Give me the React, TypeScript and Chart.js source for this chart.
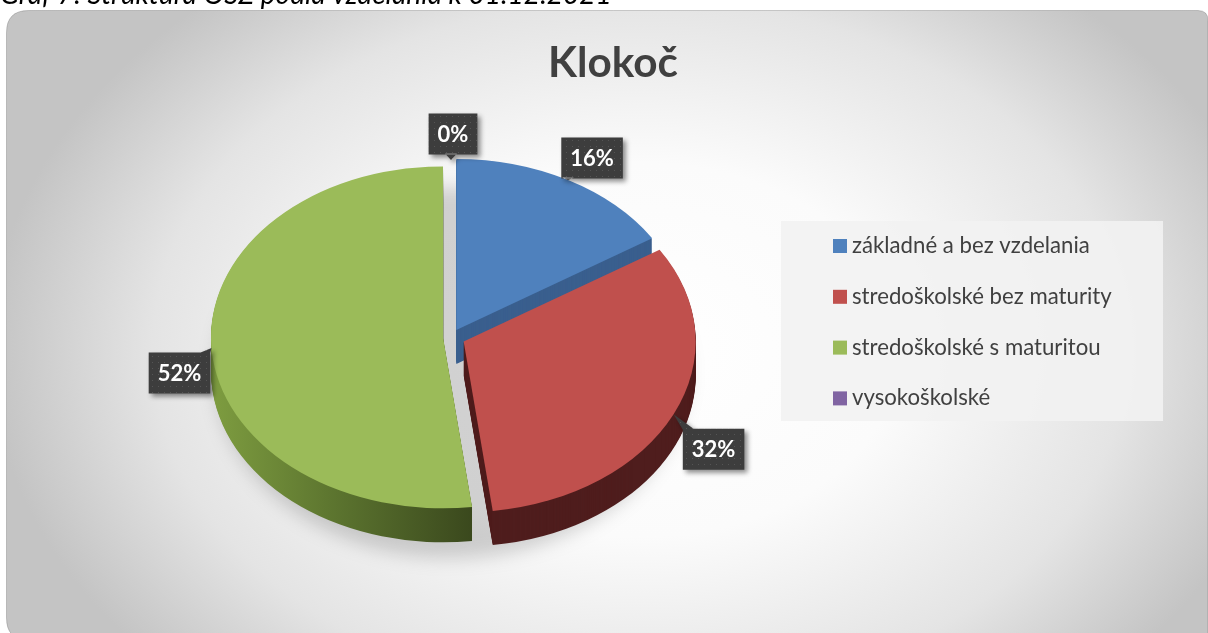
import React, { useEffect, useRef } from "react";
import { Chart, registerables } from "chart.js";

Chart.register(...registerables);

// ---- data ----
const caption = "Graf 7: Štruktúra OSZ podľa vzdelania k 01.12.2021";
const chartTitle = "Klokoč";
const categories = [
  "základné a bez vzdelania",
  "stredoškolské bez maturity",
  "stredoškolské s maturitou",
  "vysokoškolské",
];
const shares = [16, 32, 52, 0];

// ---- styles ----
const sliceColors = ["#4F81BD", "#C0504D", "#9BBB59", "#8064A2"];
const sideColors = ["#3A5F8E", "#4F1D1D", "#56702C", "#5C4776"];
const explode = [11, 14, 8, 8];
const labelOffsets = [
  [24, -22],
  [40, 35],
  [-32, 25],
  [2, -26],
];

const W = 1208;
const H = 633;
const CX = 451;
const CY = 337;
const R = 232;
const K = 0.737;
const DEPTH = 34;
const FONT = "Lato, 'Open Sans', sans-serif";

function fitSize(ctx: CanvasRenderingContext2D, text: string, prefix: string, target: number) {
  ctx.font = `${prefix} 20px ${FONT}`;
  const w = ctx.measureText(text).width;
  return (20 * target) / w;
}

function sector(ctx: CanvasRenderingContext2D, x: number, y: number, rx: number, ry: number, a0: number, a1: number) {
  ctx.beginPath();
  ctx.moveTo(x, y);
  ctx.ellipse(x, y, rx, ry, 0, a0, a1);
  ctx.closePath();
}

function drawBackground(ctx: CanvasRenderingContext2D) {
  ctx.save();
  // caption (cut at top)
  ctx.fillStyle = "#000";
  const cs = fitSize(ctx, caption, "italic", 612);
  ctx.font = `italic ${cs}px ${FONT}`;
  ctx.textBaseline = "alphabetic";
  ctx.textAlign = "left";
  ctx.fillText(caption, 0, 4);

  // rounded panel
  const x0 = 6.5, y0 = 10.5, x1 = 1208, y1 = 640;
  const rTL = 22, rTR = 10, rBL = 22;
  ctx.beginPath();
  ctx.moveTo(x0 + rTL, y0);
  ctx.lineTo(x1 - rTR, y0);
  ctx.quadraticCurveTo(x1, y0, x1, y0 + rTR);
  ctx.lineTo(x1, y1);
  ctx.lineTo(x0 + rBL, y1);
  ctx.quadraticCurveTo(x0, y1, x0, y1 - rBL);
  ctx.lineTo(x0, y0 + rTL);
  ctx.quadraticCurveTo(x0, y0, x0 + rTL, y0);
  ctx.closePath();
  ctx.save();
  ctx.translate(640, 350);
  ctx.scale(1, 0.72);
  const g = ctx.createRadialGradient(0, 0, 0, 0, 0, 650);
  g.addColorStop(0, "#ffffff");
  g.addColorStop(0.4, "#fbfbfb");
  g.addColorStop(0.75, "#e4e4e4");
  g.addColorStop(1, "#c4c4c4");
  ctx.fillStyle = g;
  ctx.fill();
  ctx.restore();
  ctx.strokeStyle = "rgba(0,0,0,0.18)";
  ctx.lineWidth = 1;
  ctx.stroke();

  // title
  const ts = fitSize(ctx, chartTitle, "bold", 130);
  ctx.font = `bold ${ts}px ${FONT}`;
  ctx.fillStyle = "#404040";
  ctx.textAlign = "center";
  ctx.fillText(chartTitle, 613, 77);
  ctx.restore();
}

let patternCache: CanvasPattern | null = null;
function getPattern(ctx: CanvasRenderingContext2D) {
  if (patternCache) return patternCache;
  const c = document.createElement("canvas");
  c.width = 6;
  c.height = 6;
  const p = c.getContext("2d")!;
  p.fillStyle = "#3d3d3d";
  p.fillRect(0, 0, 6, 6);
  p.fillStyle = "#555555";
  p.fillRect(2, 2, 1, 1);
  patternCache = ctx.createPattern(c, "repeat");
  return patternCache;
}

function drawCallout(ctx: CanvasRenderingContext2D, cx: number, cy: number, tx: number, ty: number, text: string) {
  ctx.save();
  ctx.font = `bold 22px ${FONT}`;
  const tw = ctx.measureText(text).width;
  const bw = tw + 18;
  const bh = 41;
  const bx = cx - bw / 2;
  const by = cy - bh / 2;
  ctx.beginPath();
  ctx.rect(bx, by, bw, bh);
  // pointer
  const hw = 6;
  if (ty > by + bh) {
    const px = Math.min(Math.max(tx, bx + hw), bx + bw - hw);
    ctx.moveTo(px - hw, by + bh - 1);
    ctx.lineTo(tx, ty);
    ctx.lineTo(px + hw, by + bh - 1);
  } else if (ty < by) {
    const px = Math.min(Math.max(tx, bx + hw), bx + bw - hw);
    ctx.moveTo(px - hw, by + 1);
    ctx.lineTo(tx, ty);
    ctx.lineTo(px + hw, by + 1);
  } else if (tx < bx) {
    const py = Math.min(Math.max(ty, by + hw), by + bh - hw);
    ctx.moveTo(bx + 1, py - hw);
    ctx.lineTo(tx, ty);
    ctx.lineTo(bx + 1, py + hw);
  } else {
    const py = Math.min(Math.max(ty, by + hw), by + bh - hw);
    ctx.moveTo(bx + bw - 1, py - hw);
    ctx.lineTo(tx, ty);
    ctx.lineTo(bx + bw - 1, py + hw);
  }
  ctx.closePath();
  ctx.shadowColor = "rgba(0,0,0,0.45)";
  ctx.shadowBlur = 5;
  ctx.shadowOffsetX = 3;
  ctx.shadowOffsetY = 3;
  ctx.fillStyle = getPattern(ctx) || "#3d3d3d";
  ctx.fill("nonzero");
  ctx.shadowColor = "transparent";
  ctx.fillStyle = "#ffffff";
  ctx.textAlign = "center";
  ctx.textBaseline = "middle";
  ctx.fillText(text, cx, cy + 1);
  ctx.restore();
}

const pie3d = {
  id: "pie3d",
  afterUpdate(chart: any) {
    const meta = chart.getDatasetMeta(0);
    meta.data.forEach((el: any, i: number) => {
      const half = (el.startAngle + el.endAngle) / 2;
      el.x += Math.cos(half) * explode[i];
      el.y += Math.sin(half) * explode[i];
    });
  },
  beforeDraw(chart: any) {
    drawBackground(chart.ctx);
  },
  beforeDatasetsDraw(chart: any) {
    const ctx: CanvasRenderingContext2D = chart.ctx;
    // soft shadow below the pie
    ctx.save();
    ctx.filter = "blur(9px)";
    ctx.fillStyle = "rgba(0,0,0,0.17)";
    ctx.beginPath();
    ctx.ellipse(CX, CY + 36, R + 4, R * K + 14, 0, 0, Math.PI * 2);
    ctx.fill();
    ctx.restore();

    // side walls
    const meta = chart.getDatasetMeta(0);
    const order = [0, 2, 1, 3];
    for (const i of order) {
      const el = meta.data[i];
      if (!el || el.endAngle - el.startAngle <= 0) continue;
      const sx = el.x;
      const sy = CY + (el.y - CY) * K;
      ctx.save();
      if (i === 2) {
        const g = ctx.createLinearGradient(sx - R, 0, sx + 30, 0);
        g.addColorStop(0, "#7E9D40");
        g.addColorStop(0.5, "#5A722E");
        g.addColorStop(1, "#3A481D");
        ctx.fillStyle = g;
      } else {
        ctx.fillStyle = sideColors[i];
      }
      for (let d = DEPTH; d >= 1; d--) {
        sector(ctx, sx, sy + d, R, R * K, el.startAngle, el.endAngle);
        ctx.fill();
      }
      ctx.restore();
    }

    // squash the top faces into an ellipse
    ctx.save();
    ctx.translate(0, CY);
    ctx.scale(1, K);
    ctx.translate(0, -CY);
  },
  afterDatasetsDraw(chart: any) {
    const ctx: CanvasRenderingContext2D = chart.ctx;
    ctx.restore();
    const meta = chart.getDatasetMeta(0);
    meta.data.forEach((el: any, i: number) => {
      const half = (el.startAngle + el.endAngle) / 2;
      const lx = el.x + Math.cos(half) * R;
      const ly = el.y + Math.sin(half) * R;
      const tx = lx;
      const ty = CY + (ly - CY) * K;
      const [ox, oy] = labelOffsets[i];
      drawCallout(ctx, tx + ox, ty + oy, tx, ty, `${shares[i]}%`);
    });
  },
  afterDraw(chart: any) {
    const ctx: CanvasRenderingContext2D = chart.ctx;
    ctx.save();
    // legend box
    ctx.fillStyle = "rgba(242,242,242,0.9)";
    ctx.fillRect(781, 221, 382, 200);
    const labels: string[] = chart.data.labels;
    const colors: string[] = chart.data.datasets[0].backgroundColor;
    const fs = fitSize(ctx, labels[0], "", 238);
    ctx.font = `${fs}px ${FONT}`;
    ctx.textAlign = "left";
    ctx.textBaseline = "alphabetic";
    labels.forEach((lab, i) => {
      const cy = 246 + i * 50.8;
      ctx.fillStyle = colors[i];
      ctx.fillRect(833, cy - 7, 14, 14);
      ctx.fillStyle = "#404040";
      ctx.fillText(lab, 852, cy + 7);
    });
    ctx.restore();
  },
};

export default function App() {
  const ref = useRef<HTMLCanvasElement>(null);
  useEffect(() => {
    document.body.style.margin = "0";
    const chart = new Chart(ref.current!, {
      type: "pie",
      data: {
        labels: categories,
        datasets: [
          {
            data: shares,
            backgroundColor: sliceColors,
            borderWidth: 0,
            clip: false,
          } as any,
        ],
      },
      options: {
        responsive: false,
        animation: false,
        events: [],
        radius: R,
        layout: { padding: { left: 0, right: W - 2 * CX, top: 2 * CY - H, bottom: 0 } },
        plugins: {
          legend: { display: false },
          tooltip: { enabled: false },
          title: { display: false },
        },
      } as any,
      plugins: [pie3d as any],
    });
    return () => chart.destroy();
  }, []);
  return (
    <div style={{ position: "fixed", left: 0, top: 0, width: W, height: H }}>
      <canvas ref={ref} width={W} height={H} style={{ display: "block", width: W, height: H }} />
    </div>
  );
}
